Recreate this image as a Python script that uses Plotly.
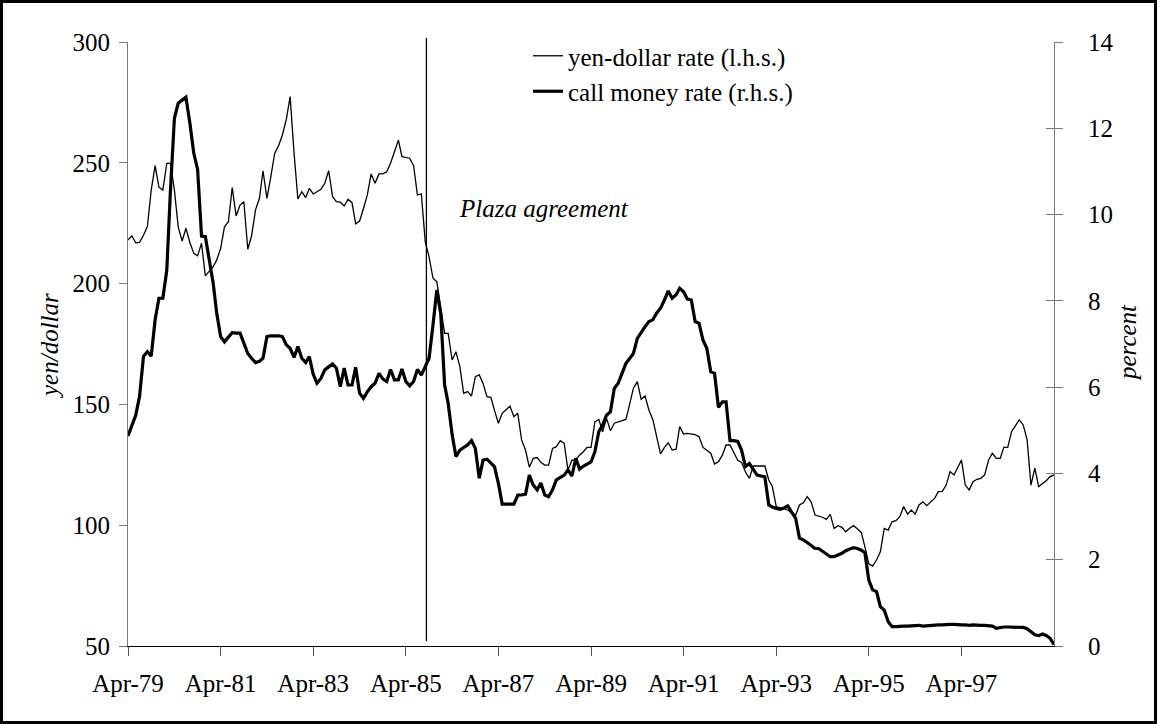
import pandas as pd
import plotly.graph_objects as go

# ---------------- data (monthly, Apr-79 .. Apr-99) ----------------
START_MONTH = "1979-04-01"

YEN_DOLLAR = [
    218, 219.8, 216.9, 217.1, 220, 223.6, 238.7, 248.8, 239.9, 238.7, 249.8, 249.8,
    238.7, 223.5, 217.6, 222.9, 217, 212.5, 211.5, 216.7, 203.2, 204.9, 207, 209.8,
    214.6, 223.5, 225.6, 239.7, 228, 232.5, 233.9, 214.2, 219.8, 230.5, 235.3, 246.7,
    235.3, 244, 253.9, 257, 261.5, 268, 277.4, 254, 235, 238, 235.6, 239.4,
    237.1, 238, 239, 241.5, 246.7, 236, 233.9, 233.7, 232.1, 234.9, 233.5, 224.7,
    225.9, 231, 236.7, 245.4, 241.5, 245.4, 245.4, 246.3, 249.8, 254.6, 259.4, 252.5,
    252.3, 251.9, 248.8, 236.7, 237.1, 217.3, 211.1, 202.2, 200.8, 190.4, 179.4, 179.4,
    168.4, 171.8, 165.6, 154.6, 155.3, 153.5, 161.5, 162.2, 158.7, 153.2, 152.9, 147.5,
    142.2, 146.3, 148, 149.3, 144.9, 146.3, 135.3, 131, 124, 127.7, 128, 126,
    124.9, 124.9, 131.8, 132.5, 135, 133.9, 122.8, 126.9, 126.9, 129.1, 130.5, 132.2,
    132.2, 142.8, 143.8, 138.7, 144.2, 139.1, 142.2, 142.8, 143.3, 143.8, 150.4, 156.7,
    159.4, 152.1, 153.5, 147.7, 143.8, 135.9, 129.5, 132.2, 134.1, 131.1, 131.5, 140.8,
    137.7, 138, 137.7, 137.5, 136.6, 132.2, 131, 129.8, 125.3, 126.3, 129, 133.2,
    133.2, 130, 126.9, 126, 122, 119.4, 124.5, 124.5, 124.5, 124.5, 118.7, 116,
    107.7, 107.3, 107, 106.3, 105, 104.2, 108.4, 109.3, 111.8, 109.7, 104.2, 103.8,
    103.3, 102.4, 104.5, 98.7, 99.8, 99.1, 97.3, 98.7, 99.8, 98.5, 96.9, 91.1,
    84, 83.1, 85.6, 89, 98.7, 98, 101.4, 101.9, 103.5, 107.7, 104.6, 106.3,
    104.6, 108.4, 109.7, 108.1, 109.5, 111.1, 113.9, 114, 116.6, 122.2, 120.8, 124,
    127, 116.6, 114.6, 118, 119, 119.4, 120.8, 127, 129.8, 127.7, 127.7, 132.2,
    132.2, 138.7, 141.5, 143.6, 141.5, 135.3, 116.6, 123.6, 116, 117.1, 118.5, 120.1,
    120.8,
]

CALL_MONEY = [
    4.87, 5.1, 5.35, 5.78, 6.71, 6.82, 6.72, 7.56, 8.06, 8.06, 8.71, 10.57,
    12.23, 12.58, 12.66, 12.72, 12.12, 11.42, 11.05, 9.50, 9.49, 8.95, 8.41, 7.71,
    7.17, 7.05, 7.17, 7.26, 7.25, 7.25, 7.02, 6.78, 6.67, 6.57, 6.6, 6.67,
    7.17, 7.19, 7.19, 7.19, 7.17, 6.98, 6.90, 6.69, 6.94, 6.67, 6.57, 6.71,
    6.30, 6.09, 6.20, 6.40, 6.47, 6.54, 6.44, 6.01, 6.44, 6.05, 6.05, 6.46,
    5.86, 5.74, 5.89, 6.01, 6.09, 6.32, 6.19, 6.13, 6.41, 6.17, 6.17, 6.42,
    6.13, 6.03, 6.13, 6.41, 6.28, 6.47, 6.67, 7.44, 8.25, 7.71, 6.05, 5.62,
    4.9, 4.39, 4.54, 4.60, 4.66, 4.76, 4.58, 3.89, 4.31, 4.33, 4.25, 4.16,
    3.77, 3.29, 3.29, 3.29, 3.29, 3.50, 3.50, 3.52, 3.96, 3.73, 3.62, 3.78,
    3.50, 3.46, 3.62, 3.85, 3.90, 3.96, 4.08, 3.94, 4.35, 4.10, 4.17, 4.22,
    4.27, 4.50, 4.97, 5.12, 5.35, 5.43, 5.97, 6.09, 6.32, 6.55, 6.67, 6.78,
    7.13, 7.28, 7.40, 7.52, 7.56, 7.72, 7.83, 8.02, 8.23, 8.06, 8.14, 8.29,
    8.21, 8.04, 8.02, 7.52, 7.48, 7.09, 6.90, 6.36, 6.32, 5.53, 5.66, 5.66,
    4.76, 4.76, 4.74, 4.54, 4.16, 4.23, 4.08, 3.96, 3.94, 3.92, 3.27, 3.22,
    3.19, 3.17, 3.20, 3.25, 3.10, 2.96, 2.50, 2.46, 2.40, 2.34, 2.26, 2.26,
    2.20, 2.15, 2.07, 2.07, 2.11, 2.15, 2.21, 2.24, 2.28, 2.26, 2.22, 2.16,
    1.53, 1.30, 1.26, 0.91, 0.83, 0.56, 0.45, 0.45, 0.46, 0.46, 0.46, 0.47,
    0.47, 0.48, 0.46, 0.47, 0.48, 0.48, 0.49, 0.49, 0.50, 0.50, 0.50, 0.49,
    0.49, 0.49, 0.48, 0.49, 0.48, 0.48, 0.48, 0.47, 0.46, 0.41, 0.43, 0.44,
    0.44, 0.44, 0.44, 0.44, 0.43, 0.40, 0.32, 0.26, 0.24, 0.28, 0.24, 0.18,
    0.03,
]

TICK_LABELS = ["Apr-79", "Apr-81", "Apr-83", "Apr-85", "Apr-87",
               "Apr-89", "Apr-91", "Apr-93", "Apr-95", "Apr-97"]
LEFT_TICKS = [50, 100, 150, 200, 250, 300]
RIGHT_TICKS = [0, 2, 4, 6, 8, 10, 12, 14]

SERIES_NAMES = ["yen-dollar rate (l.h.s.)", "call money rate (r.h.s.)"]
PLAZA_DATE = "1985-09-10"
PLAZA_LABEL = "Plaza agreement"
PLAZA_LABEL_DATE = "1986-05-10"
PLAZA_LABEL_Y = 231

# ---------------- figure ----------------
months = pd.date_range(START_MONTH, periods=len(YEN_DOLLAR), freq="MS")
tick_dates = pd.date_range(START_MONTH, periods=len(TICK_LABELS), freq="24MS")

W, H = 1157, 724
ML, MR, MT, MB = 128, 103, 42, 78
PW, PH = W - ML - MR, H - MT - MB


def px_x(px):
    return (px - ML) / PW


def px_y(py):
    return (H - MB - py) / PH


FONT = "Liberation Serif"
FS = 25
AXIS_GREY = "#7a7a7a"

fig = go.Figure()
fig.add_trace(go.Scatter(
    x=months, y=YEN_DOLLAR, name=SERIES_NAMES[0], mode="lines",
    line=dict(color="black", width=1.3), yaxis="y", legendgroup="a",
))
fig.add_trace(go.Scatter(
    x=months, y=CALL_MONEY, name=SERIES_NAMES[1], mode="lines",
    line=dict(color="black", width=3.2), yaxis="y2", legendgroup="b",
))
# helper trace so the inner tick marks of the right axis are drawn
fig.add_trace(go.Scatter(
    x=months[:1], y=CALL_MONEY[:1], yaxis="y3", mode="markers",
    marker=dict(opacity=0), showlegend=False, hoverinfo="skip",
))

fig.update_layout(
    width=W, height=H,
    margin=dict(l=ML, r=MR, t=MT, b=MB, autoexpand=False),
    paper_bgcolor="white", plot_bgcolor="white",
    font=dict(family=FONT, size=FS, color="black"),
    showlegend=True,
    legend=dict(
        x=px_x(528), y=px_y(33), xanchor="left", yanchor="top",
        bgcolor="rgba(0,0,0,0)", borderwidth=0,
        font=dict(family=FONT, size=FS, color="black"),
        tracegroupgap=0, itemwidth=30,
    ),
    xaxis=dict(
        type="date",
        range=[months[0], months[-1]],
        tickvals=tick_dates, ticktext=TICK_LABELS,
        ticks="outside", ticklen=9, tickcolor="#555555", tickwidth=1,
        showline=True, linecolor="black", linewidth=1,
        showgrid=False, zeroline=False, automargin=False,
        ticklabelstandoff=6,
        tickfont=dict(family=FONT, size=FS, color="black"),
    ),
    yaxis=dict(
        range=[50, 300], tickvals=LEFT_TICKS,
        ticks="outside", ticklen=8, tickcolor=AXIS_GREY, tickwidth=1,
        showline=True, linecolor=AXIS_GREY, linewidth=1,
        showgrid=False, zeroline=False, automargin=False,
        ticklabelstandoff=4,
        tickfont=dict(family=FONT, size=FS, color="black"),
    ),
    yaxis2=dict(
        range=[0, 14], tickvals=RIGHT_TICKS, overlaying="y", side="right",
        ticks="outside", ticklen=8, tickcolor=AXIS_GREY, tickwidth=1,
        showline=True, linecolor=AXIS_GREY, linewidth=1,
        showgrid=False, zeroline=False, automargin=False,
        ticklabelstandoff=20,
        tickfont=dict(family=FONT, size=FS, color="black"),
    ),
    yaxis3=dict(
        range=[0, 14], tickvals=RIGHT_TICKS, overlaying="y", side="right",
        ticks="inside", ticklen=8, tickcolor=AXIS_GREY, tickwidth=1,
        showline=False, showticklabels=False,
        showgrid=False, zeroline=False, automargin=False,
    ),
)

# Plaza agreement vertical line
fig.add_shape(type="line", xref="x", yref="paper",
              x0=PLAZA_DATE, x1=PLAZA_DATE, y0=px_y(641), y1=px_y(38),
              line=dict(color="black", width=1.3))
fig.add_annotation(x=PLAZA_LABEL_DATE, y=PLAZA_LABEL_Y, xref="x", yref="y",
                   text=f"<i>{PLAZA_LABEL}</i>", showarrow=False,
                   xanchor="left", yanchor="middle",
                   font=dict(family=FONT, size=FS, color="black"))

# axis titles
fig.add_annotation(x=px_x(49), y=px_y(346), xref="paper", yref="paper",
                   text="<i>yen/dollar</i>", textangle=-90, showarrow=False,
                   xanchor="center", yanchor="middle",
                   font=dict(family=FONT, size=FS, color="black"))
fig.add_annotation(x=px_x(1127), y=px_y(343), xref="paper", yref="paper",
                   text="<i>percent</i>", textangle=-90, showarrow=False,
                   xanchor="center", yanchor="middle",
                   font=dict(family=FONT, size=FS, color="black"))

# outer frame
fig.add_shape(type="rect", xref="paper", yref="paper",
              x0=px_x(1.5), x1=px_x(1155.5), y0=px_y(722.5), y1=px_y(1.5),
              line=dict(color="black", width=3), fillcolor="rgba(0,0,0,0)",
              layer="above")

fig.write_html(
    "out.html",
    config={"displayModeBar": False},
    post_script="document.body.style.margin='0';document.body.style.overflow='hidden';",
)
